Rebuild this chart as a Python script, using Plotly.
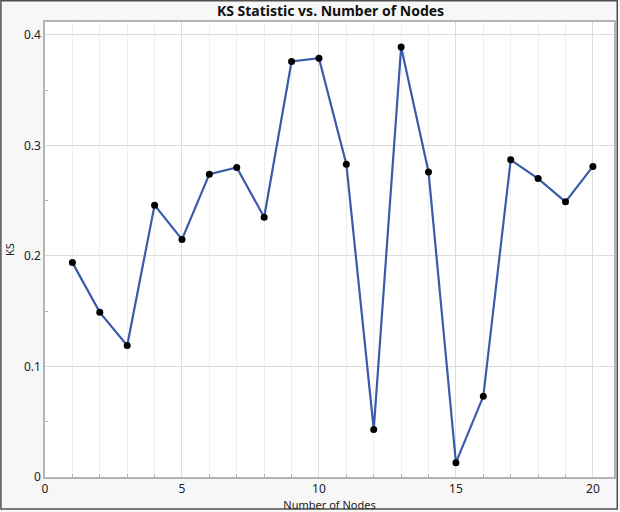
import plotly.graph_objects as go

nodes = list(range(1, 21))
ks = [0.194, 0.149, 0.119, 0.246, 0.215, 0.274, 0.280, 0.235, 0.376, 0.379,
      0.283, 0.043, 0.389, 0.276, 0.013, 0.073, 0.287, 0.270, 0.249, 0.281]

W, H = 620, 512
L, R, T, B = 45, 4, 22, 33
pw, ph = W - L - R, H - T - B

fig = go.Figure()
fig.add_trace(go.Scatter(
    x=nodes, y=ks, mode="lines+markers",
    line=dict(color="#3A5BAA", width=2.2),
    marker=dict(color="black", size=7),
    showlegend=False,
))

font = "Noto Sans, Open Sans, DejaVu Sans, sans-serif"
fig.update_layout(
    width=W, height=H,
    margin=dict(l=L, r=R, t=T, b=B),
    paper_bgcolor="#F7F7F7",
    plot_bgcolor="white",
    font=dict(family=font, size=12, color="#222"),
    title=dict(text="<b>KS Statistic vs. Number of Nodes</b>", x=(L + pw / 2) / W,
               xanchor="center", xref="container", yref="container",
               y=1 - 11 / H, yanchor="middle", font=dict(size=14, color="#111")),
    xaxis=dict(
        range=[0, 20.77], tick0=0, dtick=5, showgrid=True, gridcolor="#DCDCDC",
        gridwidth=1, zeroline=False, showline=True, linecolor="#B4B4B4",
        linewidth=1.5, mirror=True, ticks="", tickfont=dict(size=12, color="#222"),
        minor=dict(dtick=1, showgrid=True, gridcolor="#EFEFEF", ticks="inside",
                   ticklen=3, tickcolor="#B4B4B4"),
        title=dict(text="Number of Nodes", standoff=3, font=dict(size=11)),
    ),
    yaxis=dict(
        range=[0, 0.4117], tick0=0, dtick=0.1, tickformat="~g", showgrid=True,
        gridcolor="#DCDCDC", gridwidth=1, zeroline=False, showline=True,
        linecolor="#B4B4B4", linewidth=1.5, mirror=True, ticks="",
        tickfont=dict(size=12, color="#222"),
        minor=dict(dtick=0.05, showgrid=False, ticks="inside", ticklen=3,
                   tickcolor="#B4B4B4"),
        title=dict(text="KS", standoff=7, font=dict(size=11)),
    ),
    shapes=[dict(type="rect", xref="paper", yref="paper",
                 x0=(0.75 - L) / pw, x1=(W - 0.75 - L) / pw,
                 y0=-(B - 0.75) / ph, y1=1 + (T - 0.75) / ph,
                 line=dict(color="#505050", width=1.5), layer="above")],
)

fig.write_html("out.html", config={"displayModeBar": False},
               post_script="document.body.style.margin='0';")
